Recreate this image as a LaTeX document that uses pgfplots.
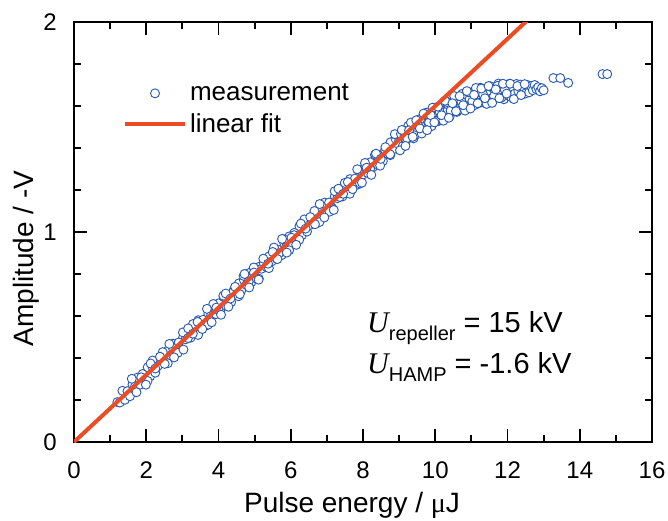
\documentclass[border=0pt]{standalone}
\usepackage{pgfplots}
\pgfplotsset{compat=1.18}
\usepackage{pgfplotstable}
\usepackage{fontspec}
\setmainfont{Liberation Sans}
\newfontfamily\Uf{Liberation Serif}
\definecolor{scblue}{RGB}{38,88,178}
\definecolor{fitred}{RGB}{236,76,36}
\pgfplotsset{
  legmark/.style={legend image code/.code={\draw[mark repeat=2,mark phase=2,##1] plot coordinates {(0pt,0pt) (30pt,0pt) (60pt,0pt)};}},
  legline/.style={legend image code/.code={\draw[##1] (0pt,0pt) -- (60pt,0pt);}},
}
\pgfplotstableread{
x y
1.20 0.190
1.27 0.188
1.34 0.244
1.41 0.201
1.48 0.242
1.55 0.218
1.62 0.274
1.69 0.265
1.76 0.307
1.83 0.273
1.90 0.324
1.97 0.300
2.04 0.356
2.11 0.313
2.18 0.354
2.25 0.330
2.32 0.386
2.39 0.377
2.46 0.419
2.53 0.385
2.60 0.436
2.67 0.412
2.74 0.468
2.81 0.425
2.88 0.466
2.95 0.442
3.02 0.498
3.09 0.489
3.16 0.531
3.23 0.497
3.30 0.548
3.37 0.524
3.44 0.580
3.51 0.537
3.58 0.578
3.65 0.554
3.72 0.610
3.79 0.601
3.86 0.643
3.93 0.609
4.00 0.660
4.07 0.636
4.14 0.692
4.21 0.649
4.28 0.690
4.35 0.666
4.42 0.722
4.49 0.713
4.56 0.755
4.63 0.721
4.70 0.772
4.77 0.748
4.84 0.804
4.91 0.761
4.98 0.802
5.05 0.778
5.12 0.834
5.19 0.825
5.26 0.867
5.33 0.833
5.40 0.884
5.47 0.860
5.54 0.916
5.61 0.873
5.68 0.914
5.75 0.890
5.82 0.946
5.89 0.937
5.96 0.979
6.03 0.945
6.10 0.996
6.17 0.972
6.24 1.028
6.31 0.985
6.38 1.026
6.45 1.002
6.52 1.058
6.59 1.049
6.66 1.091
6.73 1.057
6.80 1.108
6.87 1.084
6.94 1.140
7.01 1.097
7.08 1.138
7.15 1.114
7.22 1.170
7.29 1.161
7.36 1.203
7.43 1.169
7.50 1.220
7.57 1.196
7.64 1.252
7.71 1.209
7.78 1.250
7.85 1.226
7.92 1.282
7.99 1.273
8.06 1.315
8.13 1.281
8.20 1.332
8.27 1.308
8.34 1.364
8.41 1.321
8.48 1.362
8.55 1.338
8.62 1.394
8.69 1.385
8.76 1.427
8.83 1.393
8.90 1.444
8.97 1.420
2.035 0.291
2.175 0.388
2.315 0.360
2.455 0.428
2.595 0.375
2.735 0.448
2.875 0.425
3.015 0.522
3.155 0.495
3.295 0.562
3.435 0.510
3.575 0.582
3.715 0.559
3.855 0.657
3.995 0.629
4.135 0.697
4.275 0.644
4.415 0.716
4.555 0.694
4.695 0.791
4.835 0.764
4.975 0.831
5.115 0.778
5.255 0.851
5.395 0.828
5.535 0.926
5.675 0.898
5.815 0.965
5.955 0.913
6.095 0.985
6.235 0.963
6.375 1.060
6.515 1.032
6.655 1.100
6.795 1.047
6.935 1.120
7.075 1.097
7.215 1.194
7.355 1.167
7.495 1.234
7.635 1.182
7.775 1.254
7.915 1.231
8.055 1.329
8.195 1.301
8.335 1.369
8.475 1.316
8.615 1.388
8.755 1.366
8.895 1.463
1.60 0.301
1.73 0.237
1.86 0.308
1.99 0.273
2.12 0.374
2.25 0.350
2.38 0.406
2.51 0.372
2.64 0.467
2.77 0.403
2.90 0.474
3.03 0.440
3.16 0.541
3.29 0.516
3.42 0.572
3.55 0.538
3.68 0.634
3.81 0.570
3.94 0.640
4.07 0.606
4.20 0.707
4.33 0.683
4.46 0.739
4.59 0.704
4.72 0.800
4.85 0.736
4.98 0.807
5.11 0.773
5.24 0.873
5.37 0.849
5.50 0.905
5.63 0.871
5.76 0.967
5.89 0.902
6.02 0.973
6.15 0.939
6.28 1.040
6.41 1.016
6.54 1.071
6.67 1.037
6.80 1.133
6.93 1.069
7.06 1.140
7.19 1.105
7.32 1.206
7.45 1.182
7.58 1.238
7.71 1.204
7.84 1.299
7.97 1.235
8.10 1.306
8.23 1.272
8.36 1.373
8.49 1.348
8.62 1.404
8.75 1.370
8.88 1.466
9.05 1.467
9.10 1.409
9.15 1.461
9.20 1.438
9.25 1.505
9.30 1.462
9.35 1.499
9.40 1.446
9.45 1.493
9.50 1.475
9.55 1.536
9.60 1.476
9.65 1.527
9.70 1.502
9.75 1.568
9.80 1.523
9.85 1.559
9.90 1.504
9.95 1.550
10.00 1.530
10.05 1.590
10.10 1.529
10.15 1.579
10.20 1.553
10.25 1.618
10.30 1.572
10.35 1.607
10.40 1.551
10.45 1.596
10.50 1.575
10.55 1.634
10.60 1.572
10.65 1.621
10.70 1.594
10.75 1.658
10.80 1.611
10.85 1.645
10.90 1.588
10.95 1.632
11.00 1.610
11.05 1.667
11.10 1.605
11.15 1.652
11.20 1.624
11.25 1.687
11.30 1.639
11.35 1.671
11.40 1.613
11.45 1.656
11.50 1.633
11.55 1.690
11.60 1.626
11.65 1.673
11.70 1.645
11.75 1.707
11.80 1.658
11.85 1.690
11.90 1.632
11.95 1.673
12.00 1.650
12.05 1.706
12.10 1.642
12.15 1.688
12.20 1.659
12.25 1.705
12.30 1.671
12.35 1.702
12.40 1.655
12.45 1.684
12.50 1.660
12.55 1.700
12.60 1.665
12.65 1.695
12.70 1.675
12.75 1.700
12.80 1.680
12.85 1.690
12.90 1.670
12.95 1.685
13.00 1.675
9.025 1.389
9.125 1.483
9.225 1.447
9.325 1.521
9.425 1.460
9.525 1.508
9.625 1.469
9.725 1.560
9.825 1.521
9.925 1.592
10.025 1.527
10.125 1.571
10.225 1.530
10.325 1.619
10.425 1.578
10.525 1.647
10.625 1.579
10.725 1.621
10.825 1.578
10.925 1.665
11.025 1.621
11.125 1.686
11.225 1.615
11.325 1.655
11.425 1.610
11.525 1.694
11.625 1.647
11.725 1.696
11.825 1.639
11.925 1.677
9.075 1.486
9.175 1.410
9.275 1.484
9.375 1.453
9.475 1.532
9.575 1.493
9.675 1.564
9.775 1.485
9.875 1.556
9.975 1.522
10.075 1.597
10.175 1.556
10.275 1.625
10.375 1.544
10.475 1.613
10.575 1.575
10.675 1.647
10.775 1.604
10.875 1.671
10.975 1.588
11.075 1.653
11.175 1.613
11.275 1.683
11.375 1.637
11.475 1.695
11.575 1.615
11.675 1.679
11.775 1.637
11.875 1.706
11.975 1.659
12.075 1.706
12.175 1.633
12.275 1.695
12.375 1.652
12.475 1.704
13.27 1.733
13.46 1.733
13.68 1.710
14.63 1.752
14.76 1.752
}\measdata
\begin{document}
\begin{tikzpicture}
\begin{axis}[
  scale only axis,
  width=578pt, height=420pt,
  xmin=0, xmax=16, ymin=0, ymax=2,
  xtick={0,2,...,16}, ytick={0,1,2},
  major tick length=0pt, minor tick length=0pt,
  axis line style={line width=1.8pt},
  clip marker paths=true,
  /pgf/number format/assume math mode=true,
  x tick label style={font=\fontsize{24}{28}\selectfont, inner sep=0pt, anchor=base, yshift=-36pt},
  y tick label style={font=\fontsize{24}{28}\selectfont, inner sep=0pt, anchor=east, xshift=-17pt},
  xlabel={Pulse energy / {\Uf μ}J},
  ylabel={Amplitude / -V},
  xlabel style={font=\fontsize{28}{32}\selectfont, at={(axis description cs:0.481,-0.1667)}, anchor=base, inner sep=0pt},
  ylabel style={font=\fontsize{28}{32}\selectfont, at={(axis description cs:-0.0709,0.437)}, anchor=base, inner sep=0pt},
  legend style={draw=none, fill=none, inner sep=0pt, outer sep=0pt,
    at={(rel axis cs:0.0848,0.852)}, anchor=north west,
    font=\fontsize{26}{30}\selectfont, row sep=11pt,
    nodes={inner sep=0pt},
    /tikz/every odd column/.append style={column sep=3pt}},
  legend cell align=left,
]
\addplot[only marks, mark=*, mark size=4.5pt,
  mark options={draw=scblue, fill=white, line width=0.9pt}, legmark
] table[x=x,y=y] {\measdata};
\addlegendentry{measurement}
\addplot[fitred, line width=4pt, no marks, legline] coordinates {(0,0) (13,2.08)};
\addlegendentry{linear fit}
\node[anchor=base west, inner sep=0pt, font=\fontsize{29}{32}\selectfont] at (rel axis cs:0.5069,0.2602)
  {{\Uf\itshape\fontsize{30}{32}\selectfont U}\raisebox{-8pt}{\fontsize{20}{21}\selectfont repeller} = 15 kV};
\node[anchor=base west, inner sep=0pt, font=\fontsize{29}{32}\selectfont] at (rel axis cs:0.5069,0.1636)
  {{\Uf\itshape\fontsize{30}{32}\selectfont U}\raisebox{-8pt}{\fontsize{20}{21}\selectfont HAMP} = -1.6 kV};
\end{axis}
% inside tick marks on all four sides (16 units = 578pt, 2 units = 420pt)
\begin{scope}[shift={(current axis.south west)}, line width=1.8pt, draw=black]
\foreach \i in {2,4,6,8,10,12,14} {
  \draw (\i*36.125pt,0pt) -- ++(0pt,13pt);
  \draw (\i*36.125pt,420pt) -- ++(0pt,-13pt);
}
\foreach \i in {1,3,5,7,9,11,13,15} {
  \draw (\i*36.125pt,0pt) -- ++(0pt,7pt);
  \draw (\i*36.125pt,420pt) -- ++(0pt,-7pt);
}
\draw (0pt,210pt) -- ++(13pt,0pt);
\draw (578pt,210pt) -- ++(-13pt,0pt);
\foreach \j in {1,2,3,4,6,7,8,9} {
  \draw (0pt,\j*42pt) -- ++(7pt,0pt);
  \draw (578pt,\j*42pt) -- ++(-7pt,0pt);
}
\end{scope}
\pgfresetboundingbox
\useasboundingbox ([xshift=-74pt,yshift=-78pt]current axis.south west) rectangle ([xshift=16pt,yshift=22pt]current axis.north east);
\end{tikzpicture}
\end{document}
